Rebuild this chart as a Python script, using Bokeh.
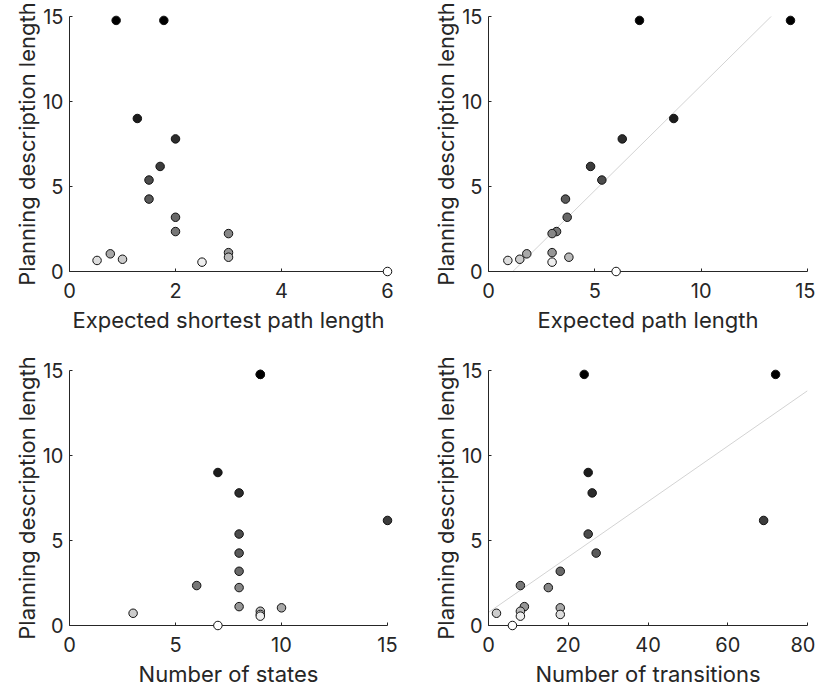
from bokeh.plotting import figure
from bokeh.models import Range1d, FixedTicker
from bokeh.layouts import column, row
from bokeh.embed import file_html
from bokeh.resources import INLINE

# ---- data (one entry per environment) ----
planning_length = [14.77, 14.77, 9.0, 7.80, 6.18, 5.38, 4.26, 3.19, 2.35, 2.23,
                   1.11, 1.04, 0.84, 0.72, 0.65, 0.55, 0.0]
shortest_path = [0.88, 1.78, 1.28, 2.0, 1.71, 1.5, 1.5, 2.0, 2.0, 3.0,
                 3.0, 0.77, 3.0, 1.0, 0.52, 2.5, 6.0]
expected_path = [7.10, 14.2, 8.71, 6.29, 4.80, 5.33, 3.62, 3.70, 3.20, 2.99,
                 2.99, 1.80, 3.78, 1.47, 0.91, 2.99, 6.0]
num_states = [9, 9, 7, 8, 15, 8, 8, 8, 6, 8, 8, 10, 9, 3, 9, 9, 7]
num_transitions = [24, 72, 25, 26, 69, 25, 27, 18, 8, 15, 9, 18, 8, 2, 18, 8, 6]
fill_gray = ["#000000", "#000000", "#1c1c1c", "#2c2c2c", "#3c3c3c", "#4c4c4c",
             "#5a5a5a", "#686868", "#777777", "#868686", "#969696", "#a8a8a8",
             "#bababa", "#cccccc", "#dddddd", "#eeeeee", "#ffffff"]

# reference lines (slope, intercept)
fit_expected_path = (1.235, -1.41)
fit_transitions = (0.163, 0.77)

y_ticks = [0, 5, 10, 15]
x_ticks_shortest = [0, 2, 4, 6]
x_ticks_expected = [0, 5, 10, 15]
x_ticks_states = [0, 5, 10, 15]
x_ticks_trans = [0, 20, 40, 60, 80]

FONT = "Inter"
AX = "#262626"


def panel(xs, xlabel, xmax, xticks, left, right, top, bottom, fw, fit=None):
    p = figure(frame_width=fw, frame_height=255,
               min_border_left=left, min_border_right=right,
               min_border_top=top, min_border_bottom=bottom,
               x_range=Range1d(0, xmax), y_range=Range1d(0, 15),
               output_backend="svg", toolbar_location=None,
               background_fill_color="white", border_fill_color="white")
    p.outline_line_color = None
    p.grid.visible = False
    for ax in (p.xaxis, p.yaxis):
        ax.axis_line_color = AX
        ax.axis_line_width = 1
        ax.major_tick_line_color = AX
        ax.major_tick_in = 3
        ax.major_tick_out = 0
        ax.minor_tick_line_color = None
        ax.major_label_text_color = AX
        ax.major_label_text_font = FONT
        ax.major_label_text_font_size = "20px"
        ax.axis_label_text_color = AX
        ax.axis_label_text_font = FONT
        ax.axis_label_text_font_size = "22px"
        ax.axis_label_text_font_style = "normal"
    p.xaxis.ticker = FixedTicker(ticks=xticks)
    p.yaxis.ticker = FixedTicker(ticks=y_ticks)
    p.xaxis.major_label_standoff = 11
    p.xaxis.axis_label_standoff = 6
    p.yaxis.major_label_standoff = 6
    p.yaxis.axis_label_standoff = 0
    p.xaxis.axis_label = xlabel
    p.yaxis.axis_label = "Planning description length"
    if fit is not None:
        m, b = fit
        p.line([0, xmax], [b, m * xmax + b], line_color="#d3d3d3", line_width=1)
    p.scatter(xs, planning_length, size=8.5, fill_color=fill_gray,
              line_color="#111111", line_width=1, level="overlay")
    return p


p1 = panel(shortest_path, "Expected shortest path length", 6, x_ticks_shortest,
           69, 21, 16, 68, 318)
p2 = panel(expected_path, "Expected path length", 15, x_ticks_expected,
           80, 8, 16, 68, 319, fit=fit_expected_path)
p3 = panel(num_states, "Number of states", 15, x_ticks_states,
           69, 21, 31, 62, 318)
p4 = panel(num_transitions, "Number of transitions", 80, x_ticks_trans,
           80, 8, 31, 62, 319, fit=fit_transitions)

layout = column(row(p1, p2), row(p3, p4))

open("out.html", "w").write(file_html(layout, INLINE))
